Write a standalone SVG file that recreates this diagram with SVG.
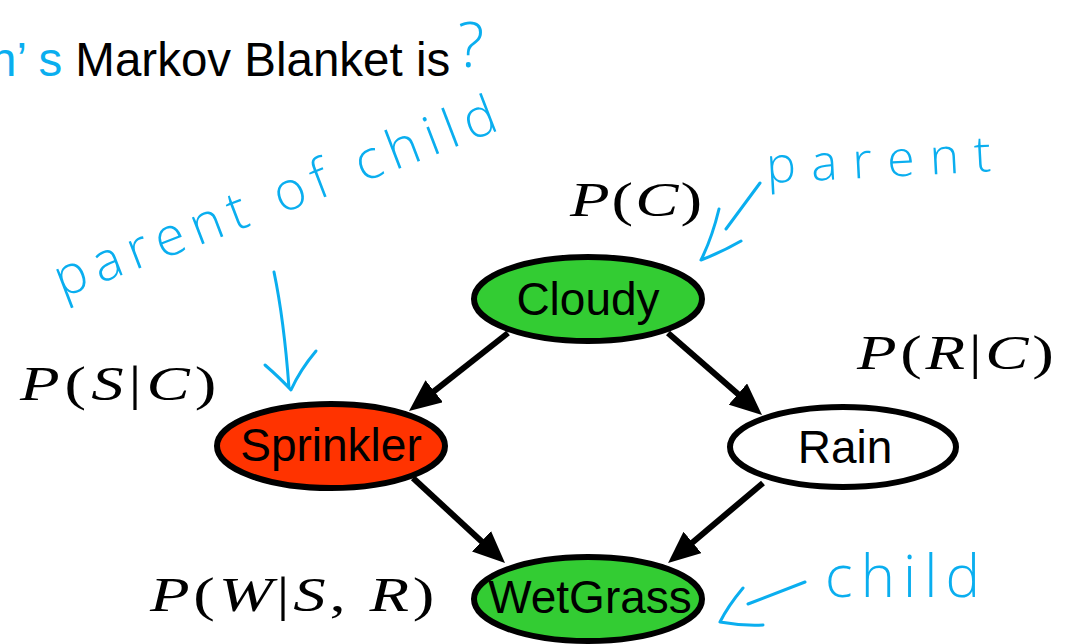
<svg xmlns="http://www.w3.org/2000/svg" width="1068" height="644" viewBox="0 0 1068 644">
<defs>
<style>
.node{stroke:#000;stroke-width:6}
.lbl{font-family:"Liberation Sans",Arial,sans-serif;font-size:46px;fill:#000;text-anchor:middle}
.edge{stroke:#000;stroke-width:6;fill:none;marker-end:url(#ah)}
.math{font-family:"Liberation Serif","Times New Roman",serif;font-size:48px;fill:#000}
.math .v{font-style:italic}
.ink{stroke:#0AAEEF;stroke-width:3;fill:none;stroke-linecap:round;stroke-linejoin:round}
.hand{font-family:"Open Sans","DejaVu Sans",sans-serif;font-weight:300;fill:#0AAEEF}
</style>
<marker id="ah" viewBox="0 0 32 28" refX="2" refY="14" markerWidth="32" markerHeight="28" markerUnits="userSpaceOnUse" orient="auto">
<path d="M0,0 L32,14 L0,28 z" fill="#000"/>
</marker>
</defs>
<rect width="1068" height="644" fill="#fff"/>

<g id="title">
<text x="-10" y="76" font-family="Liberation Sans, Arial, sans-serif" font-size="47.5"><tspan fill="#0AAEEF">n’ s </tspan><tspan fill="#000">Markov Blanket is</tspan></text>
</g>

<g id="node-cloudy">
<ellipse class="node" cx="588" cy="299" rx="114" ry="42" fill="#33CC33"/>
<text class="lbl" x="588" y="315">Cloudy</text>
</g>
<g id="node-sprinkler">
<ellipse class="node" cx="331" cy="446" rx="114" ry="42" fill="#FF3300"/>
<text class="lbl" x="331" y="461">Sprinkler</text>
</g>
<g id="node-rain">
<ellipse class="node" cx="843" cy="447" rx="113" ry="40" fill="#FFFFFF"/>
<text class="lbl" x="845" y="463">Rain</text>
</g>
<g id="node-wetgrass">
<ellipse class="node" cx="588" cy="599" rx="114" ry="42" fill="#33CC33"/>
<text class="lbl" x="590" y="613">WetGrass</text>
</g>

<g id="connectors">
<line class="edge" x1="508" y1="333" x2="432.6" y2="392.4"/>
<line class="edge" x1="668" y1="333" x2="739.4" y2="395.3"/>
<line class="edge" x1="413" y1="478" x2="483" y2="542.7"/>
<line class="edge" x1="763" y1="483" x2="691" y2="543.7"/>
</g>

<g id="cpt-labels">
<text class="math" letter-spacing="1.5" transform="translate(570,216) scale(1.35,1)"><tspan class="v">P</tspan>(<tspan class="v">C</tspan>)</text>
<text class="math" letter-spacing="2.7" transform="translate(857,369) scale(1.35,1)"><tspan class="v">P</tspan>(<tspan class="v">R</tspan>|<tspan class="v">C</tspan>)</text>
<text class="math" letter-spacing="3.7" transform="translate(20,400) scale(1.35,1)"><tspan class="v">P</tspan>(<tspan class="v">S</tspan>|<tspan class="v">C</tspan>)</text>
<text class="math" letter-spacing="2.8" transform="translate(150,611) scale(1.35,1)"><tspan class="v">P</tspan>(<tspan class="v">W</tspan>|<tspan class="v">S</tspan>, <tspan class="v">R</tspan>)</text>
</g>

<g id="annotations">
<text class="hand" font-size="62" x="458" y="67">?</text>
<text class="hand" font-size="54" transform="translate(62,298) rotate(-21)" textLength="470" lengthAdjust="spacing">parent of child</text>
<text class="hand" font-size="50" transform="translate(767,183) rotate(-3)" textLength="225" lengthAdjust="spacing">parent</text>
<text class="hand" font-size="58" x="825" y="597" textLength="155" lengthAdjust="spacing">child</text>
<path class="ink" d="M760,183 L726,229 M719,209 Q712,238 701,260 Q722,252 741,241"/>
<path class="ink" d="M274,272 Q284,320 289,388 M265,365 Q280,378 291,390 Q300,370 316,351"/>
<path class="ink" d="M805,582 L748,604 M743,588 Q728,606 720,622 Q742,626 763,625"/>
</g>
</svg>
